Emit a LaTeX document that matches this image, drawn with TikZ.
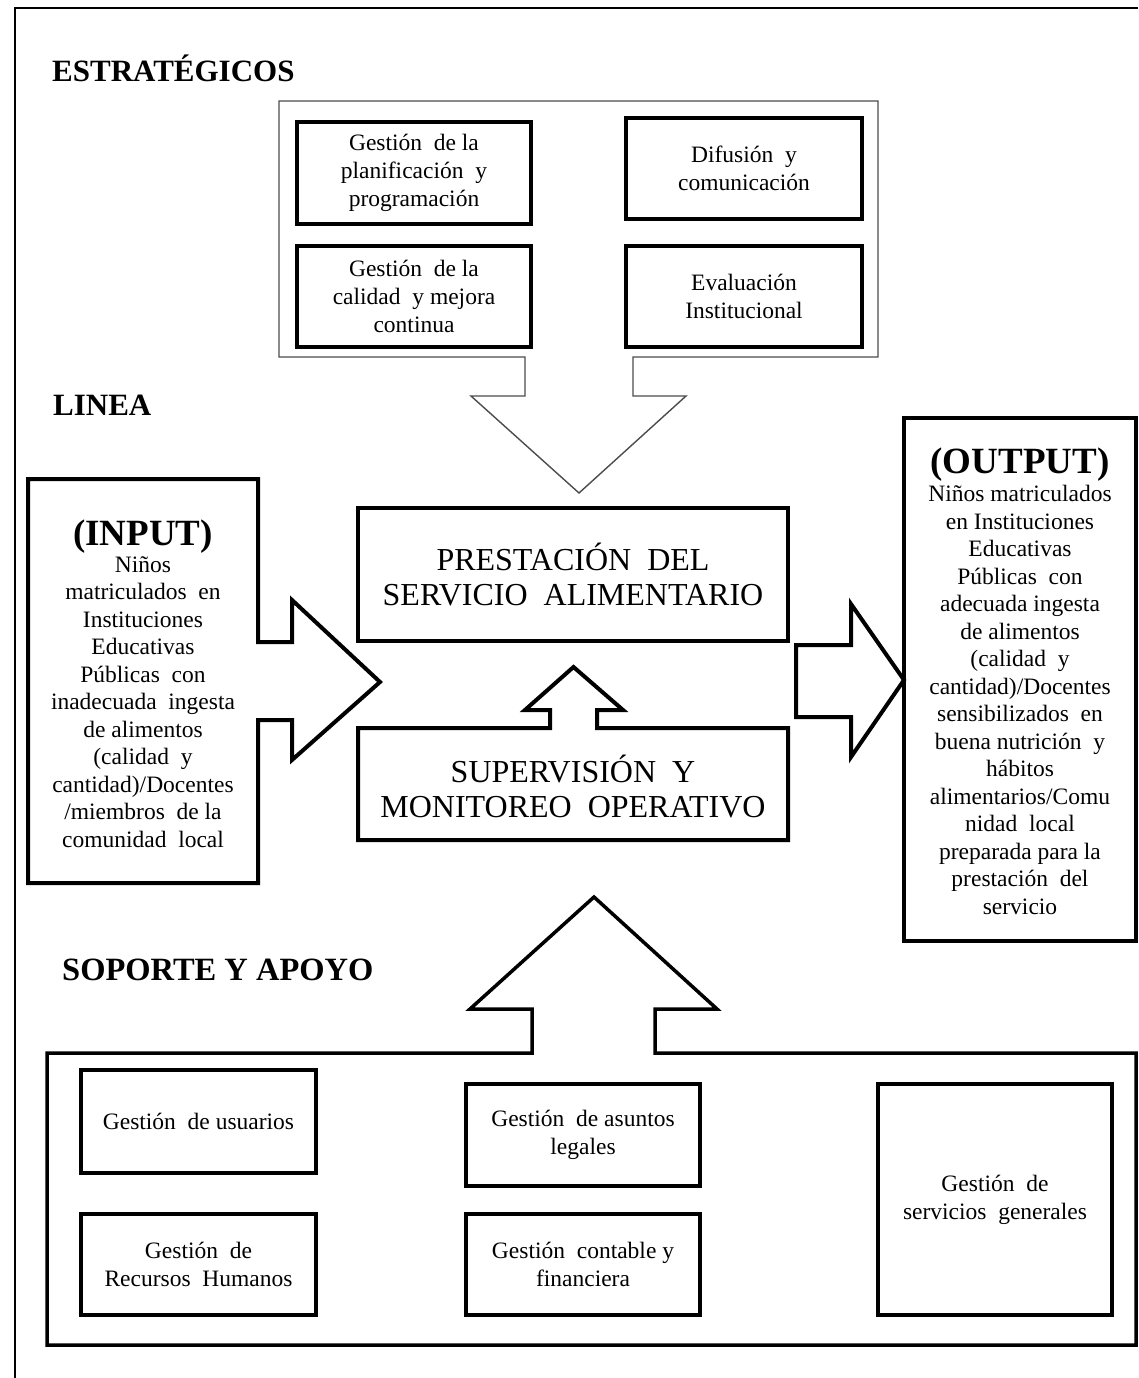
\documentclass[tikz,border=0pt]{standalone}
\usepackage{fontspec}
\setmainfont{Liberation Serif}
\newcommand\wgap{\hspace{0.25em}}
\begin{document}
\begin{tikzpicture}[x=1pt,y=-1pt,
  frame/.style={draw=black, line width=2pt},
  thinline/.style={draw=black!70, line width=1.4pt, line join=miter},
  heavy/.style={draw=black, line width=4pt, line join=miter},
  inbox/.style={draw=black, line width=4pt, inner sep=0pt, align=center,
     font=\fontsize{23.5}{28}\selectfont},
  plaintext/.style={inner sep=0pt, align=center, font=\fontsize{23.5}{27.5}\selectfont},
  bigtext/.style={inner sep=0pt, align=center, font=\fontsize{32}{35}\selectfont},
  heading/.style={inner sep=0pt, anchor=base west, font=\fontsize{31}{35}\selectfont\bfseries},
  iotitle/.style={inner sep=0pt, anchor=base, font=\fontsize{37}{40}\selectfont\bfseries}
]
\useasboundingbox (0,0) rectangle (1138,1378);
\fill[white] (0,0) rectangle (1138,1378);

% outer frame (left and top)
\draw[frame] (15,1378) -- (15,8) -- (1138,8);

% headings
\node[heading] (hest) at (52,82) {ESTRATÉGICOS};
\node[heading] (hlin) at (53,415) {LINEA};
\node[heading, font=\fontsize{32.5}{35}\selectfont\bfseries] (hsop) at (62,980) {SOPORTE Y APOYO};

% strategic container with down arrow
\draw[thinline] (525,357) -- (279,357) -- (279,101) -- (878,101) -- (878,357)
  -- (633,357) -- (633,396) -- (686,396) -- (579,493) -- (471,396) -- (525,396) -- cycle;

\node[inbox, minimum width=234, minimum height=102] (b1) at (414,173)
  {Gestión\wgap{} de la\\planificación\wgap{} y\\programación};
\node[inbox, minimum width=236, minimum height=101] (b2) at (744,168.5)
  {Difusión\wgap{} y\\comunicación};
\node[inbox, minimum width=234, minimum height=101] (b3) at (414,296.5)
  {Gestión\wgap{} de la\\calidad\wgap{} y mejora\\continua};
\node[inbox, minimum width=236, minimum height=101] (b4) at (744,296.5)
  {Evaluación\\Institucional};

% input box with arrow
\draw[heavy] (28,479) -- (258,479) -- (258,642) -- (292,642) -- (292,600)
  -- (380,682) -- (292,760) -- (292,720) -- (258,720) -- (258,883) -- (28,883) -- cycle;
\node[iotitle] (intitle) at (143,545) {(INPUT)};
\node[plaintext] (inbody) at (143,702)
  {Niños\\matriculados\wgap{} en\\Instituciones\\Educativas\\Públicas\wgap{} con\\inadecuada\wgap{} ingesta\\de alimentos\\(calidad\wgap{} y\\cantidad)/Docentes\\/miembros\wgap{} de la\\comunidad\wgap{} local};

% prestación box
\node[inbox, bigtext, draw, line width=4pt, minimum width=430, minimum height=133] (prest) at (573,574.5)
  {PRESTACIÓN\wgap{} DEL\\SERVICIO\wgap{} ALIMENTARIO};

% supervisión box with up arrow
\draw[heavy] (358,728) -- (550,728) -- (550,710) -- (525,710) -- (573.5,667)
  -- (623,710) -- (597,710) -- (597,728) -- (788,728) -- (788,840) -- (358,840) -- cycle;
\node[bigtext] (superv) at (573,786)
  {SUPERVISIÓN\wgap{} Y\\MONITOREO\wgap{} OPERATIVO};

% output arrow and box
\draw[heavy] (796,645) -- (851,645) -- (851,604) -- (904,680) -- (851,757)
  -- (851,717) -- (796,717) -- cycle;
\draw[heavy] (904,418) rectangle (1136,941);
\node[iotitle] (outtitle) at (1020,473) {(OUTPUT)};
\node[plaintext] (outbody) at (1020,700)
  {Niños matriculados\\en Instituciones\\Educativas\\Públicas\wgap{} con\\adecuada ingesta\\de alimentos\\(calidad\wgap{} y\\cantidad)/Docentes\\sensibilizados\wgap{} en\\buena nutrición\wgap{} y\\hábitos\\alimentarios/Comu\\nidad\wgap{} local\\preparada para la\\prestación\wgap{} del\\servicio};

% support container with up arrow
\draw[draw=black, line width=3.5pt, line join=miter] (47,1053) -- (532,1053) -- (532,1009) -- (470,1009)
  -- (594,897) -- (717,1009) -- (655,1009) -- (655,1053) -- (1136,1053)
  -- (1136,1345) -- (47,1345) -- cycle;

\node[inbox, minimum width=235, minimum height=103] (s1) at (198.5,1121.5)
  {Gestión\wgap{} de usuarios};
\node[inbox, minimum width=235, minimum height=101] (s2) at (198.5,1264.5)
  {Gestión\wgap{} de\\Recursos\wgap{} Humanos};
\node[inbox, minimum width=234, minimum height=102] (s3) at (583,1135)
  {Gestión\wgap{} de asuntos\\legales};
\node[inbox, minimum width=234, minimum height=101] (s4) at (583,1264.5)
  {Gestión\wgap{} contable y\\financiera};
\node[inbox, minimum width=234, minimum height=231] (s5) at (995,1199.5)
  {Gestión\wgap{} de\\servicios\wgap{} generales};
\end{tikzpicture}
\end{document}
